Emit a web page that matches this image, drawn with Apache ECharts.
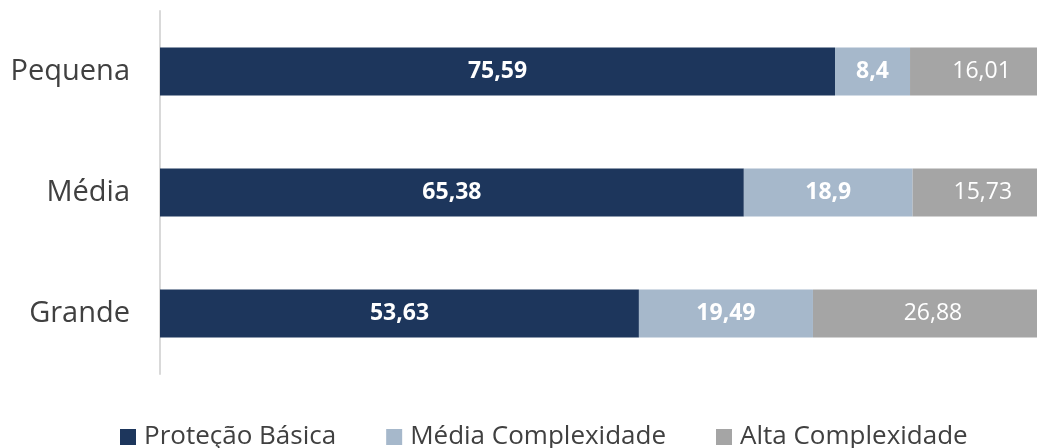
<!DOCTYPE html>
<html>
<head>
<meta charset="utf-8">
<script src="https://cdn.jsdelivr.net/npm/echarts@6/dist/echarts.min.js"></script>
<style>
  html, body { margin: 0; padding: 0; background: #fff; }
  #chart { width: 1037px; height: 448px; }
</style>
</head>
<body>
<div id="chart"></div>
<script>
// categories, bottom to top
const categories = ['Grande', 'Média', 'Pequena']
const basica = [53.63, 65.38, 75.59]
const media = [19.49, 18.9, 8.4]
const alta = [26.88, 15.73, 16.01]

const FONT = '"Open Sans", "Noto Sans", sans-serif'

function fmt(v) {
  return String(v).replace('.', ',')
}

function makeSeries(name, data, color, bold) {
  return {
    name: name,
    type: 'bar',
    stack: 'total',
    barWidth: 48,
    itemStyle: {color: color},
    label: {
      show: true,
      position: 'inside',
      color: '#fff',
      fontSize: 23,
      fontFamily: FONT,
      fontWeight: bold ? 'bold' : 'normal',
      formatter: p => fmt(p.value)
    },
    data: data
  }
}

const chart = echarts.init(document.getElementById('chart'))
chart.setOption({
  animation: false,
  grid: {
    left: 160,
    top: 11,
    width: 893,
    height: 363,
    outerBoundsMode: 'none'
  },
  legend: {
    top: 419,
    left: 115,
    itemWidth: 16,
    itemHeight: 16,
    itemGap: 50,
    icon: 'rect',
    textStyle: {
      fontSize: 26,
      color: '#404040',
      fontFamily: FONT,
      padding: [0, 0, 0, 3]
    }
  },
  xAxis: {
    type: 'value',
    min: 0,
    max: 100,
    show: false
  },
  yAxis: {
    type: 'category',
    data: categories,
    axisLine: {lineStyle: {color: '#d9d9d9', width: 2}},
    axisTick: {show: false},
    axisLabel: {
      fontSize: 29,
      color: '#404040',
      fontFamily: FONT,
      margin: 30
    }
  },
  series: [
    makeSeries('Proteção Básica', basica, '#1d365c', true),
    makeSeries('Média Complexidade', media, '#a6b8cb', true),
    makeSeries('Alta Complexidade', alta, '#a5a5a5', false)
  ]
})
</script>
</body>
</html>
